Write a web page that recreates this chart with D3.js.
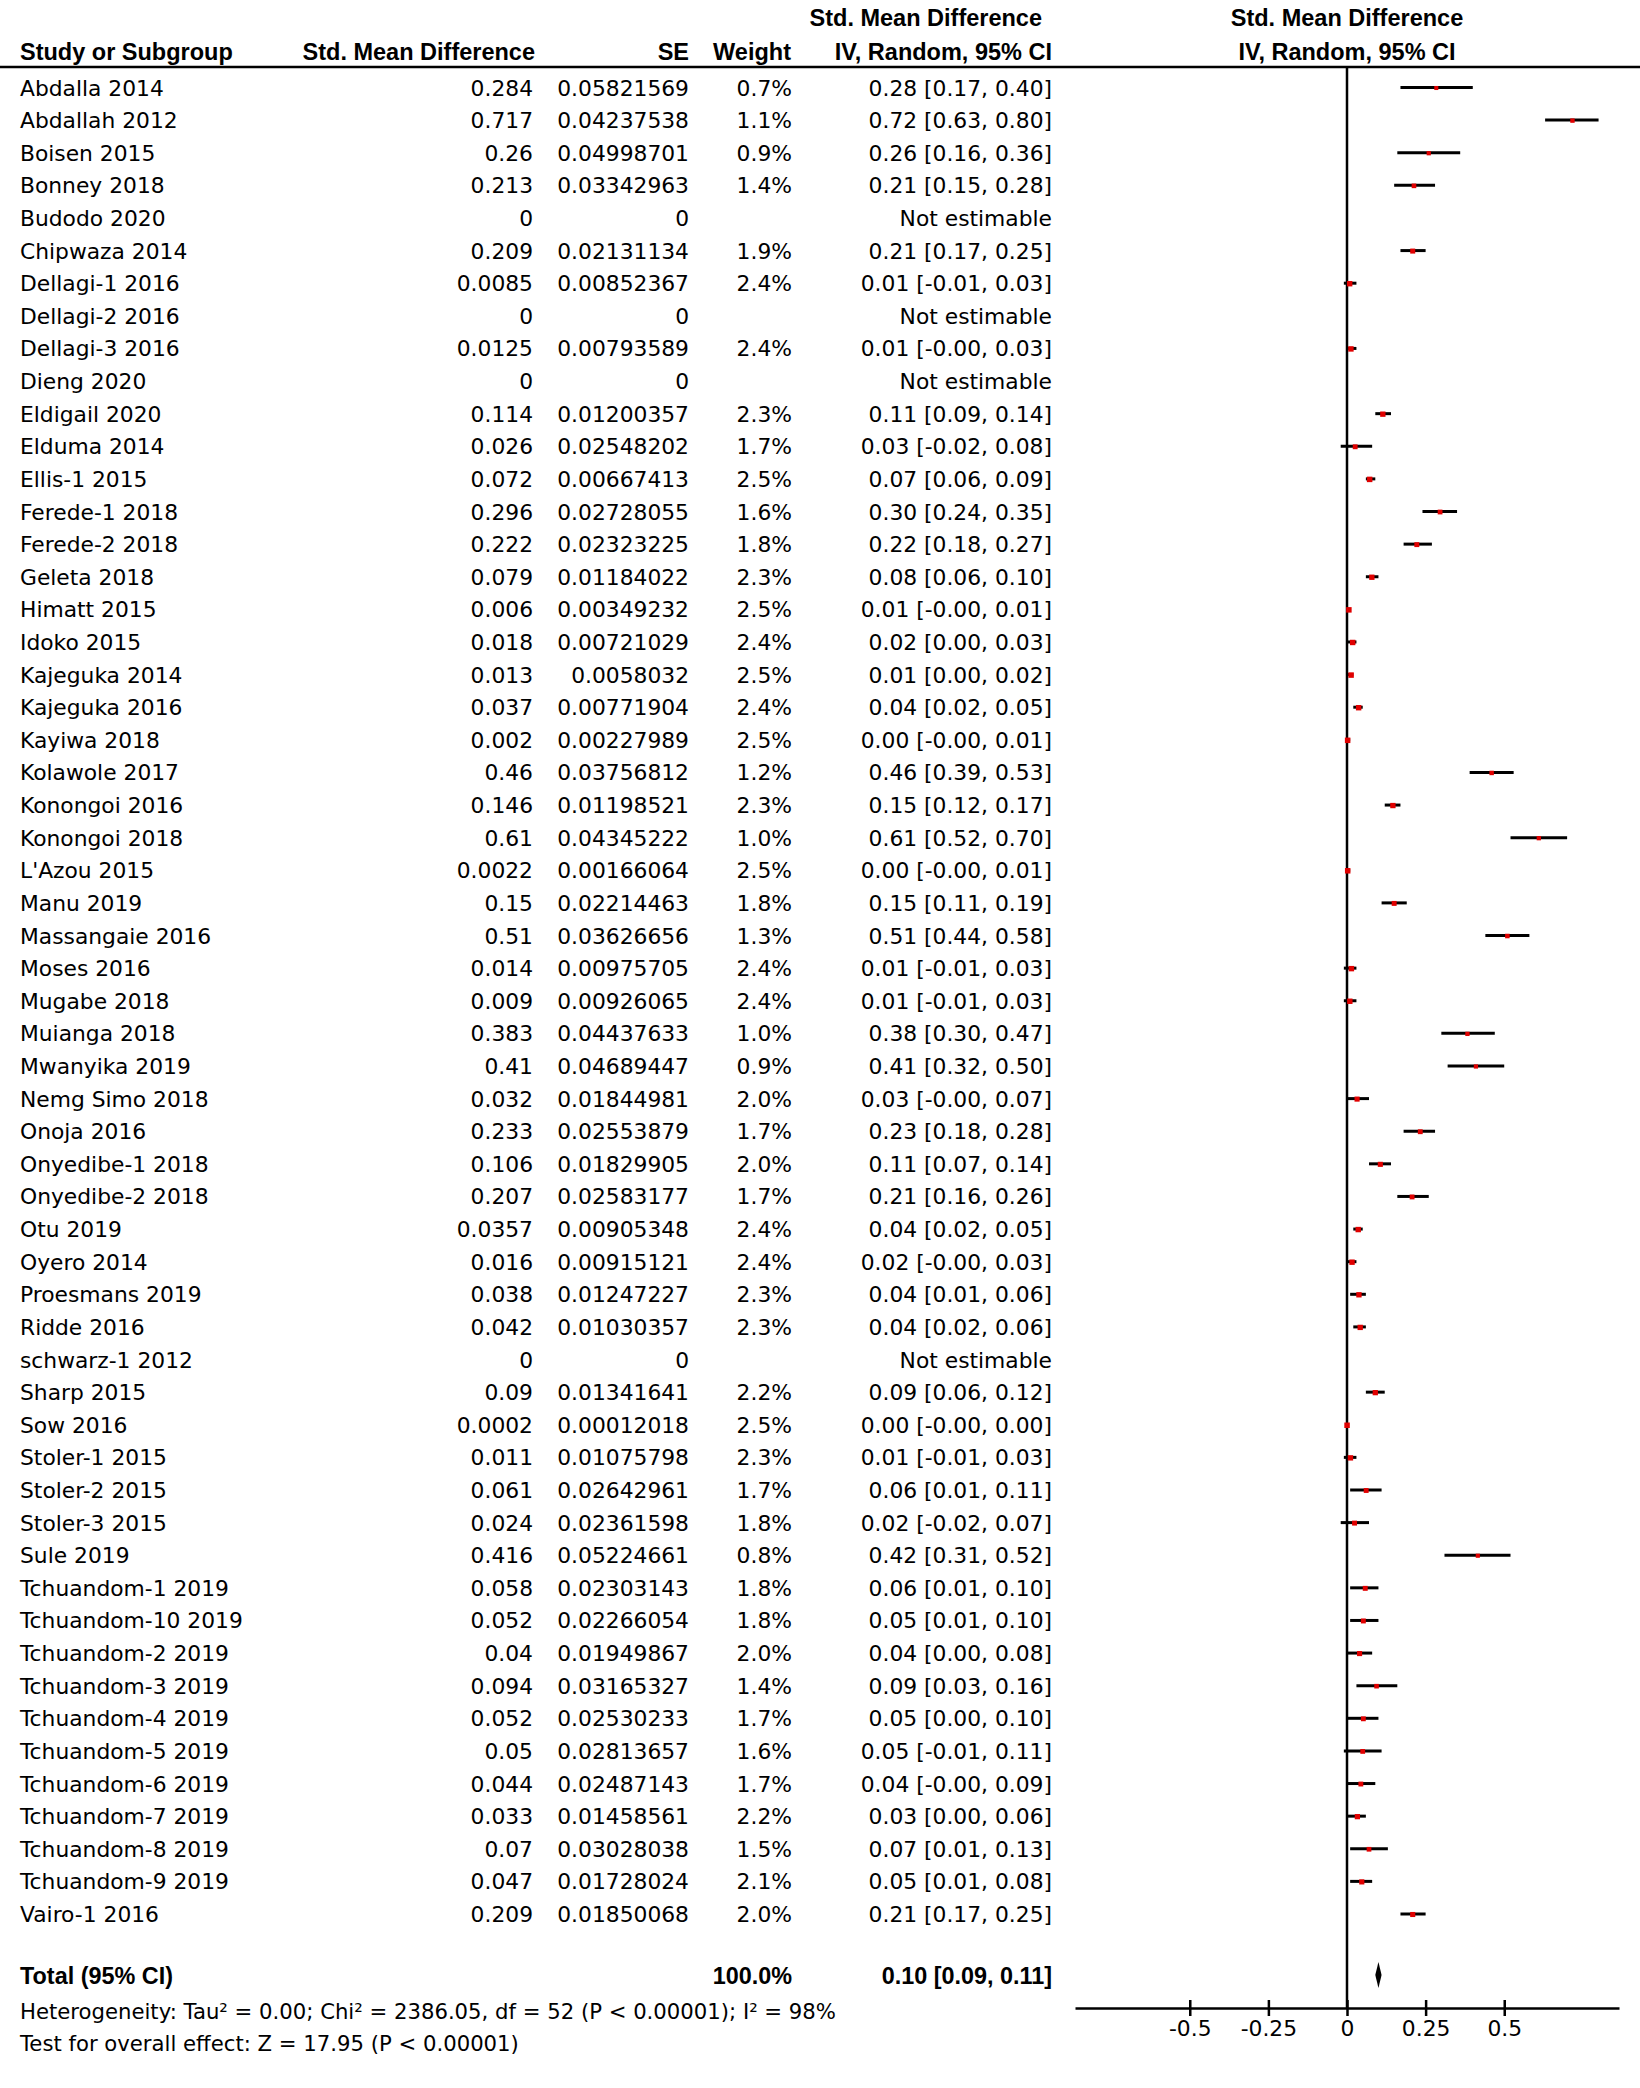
<!DOCTYPE html>
<html>
<head>
<meta charset="utf-8">
<script src="https://cdn.jsdelivr.net/npm/d3@7"></script>
<style>
    body { margin: 0; background: #ffffff; }
</style>
</head>
<body>
<svg id="visualization" width="1640" height="2088"></svg>
<script>
const studies = ["Abdalla 2014", "Abdallah 2012", "Boisen 2015", "Bonney 2018", "Budodo 2020", "Chipwaza 2014",
    "Dellagi-1 2016", "Dellagi-2 2016", "Dellagi-3 2016", "Dieng 2020", "Eldigail 2020", "Elduma 2014",
    "Ellis-1 2015", "Ferede-1 2018", "Ferede-2 2018", "Geleta 2018", "Himatt 2015", "Idoko 2015",
    "Kajeguka 2014", "Kajeguka 2016", "Kayiwa 2018", "Kolawole 2017", "Konongoi 2016", "Konongoi 2018",
    "L'Azou 2015", "Manu 2019", "Massangaie 2016", "Moses 2016", "Mugabe 2018", "Muianga 2018",
    "Mwanyika 2019", "Nemg Simo 2018", "Onoja 2016", "Onyedibe-1 2018", "Onyedibe-2 2018", "Otu 2019",
    "Oyero 2014", "Proesmans 2019", "Ridde 2016", "schwarz-1 2012", "Sharp 2015", "Sow 2016",
    "Stoler-1 2015", "Stoler-2 2015", "Stoler-3 2015", "Sule 2019", "Tchuandom-1 2019", "Tchuandom-10 2019",
    "Tchuandom-2 2019", "Tchuandom-3 2019", "Tchuandom-4 2019", "Tchuandom-5 2019", "Tchuandom-6 2019",
    "Tchuandom-7 2019", "Tchuandom-8 2019", "Tchuandom-9 2019", "Vairo-1 2016"];

const smd = [0.284, 0.717, 0.26, 0.213, 0, 0.209, 0.0085, 0, 0.0125, 0, 0.114, 0.026, 0.072, 0.296, 0.222,
    0.079, 0.006, 0.018, 0.013, 0.037, 0.002, 0.46, 0.146, 0.61, 0.0022, 0.15, 0.51, 0.014, 0.009, 0.383,
    0.41, 0.032, 0.233, 0.106, 0.207, 0.0357, 0.016, 0.038, 0.042, 0, 0.09, 0.0002, 0.011, 0.061, 0.024,
    0.416, 0.058, 0.052, 0.04, 0.094, 0.052, 0.05, 0.044, 0.033, 0.07, 0.047, 0.209];

const se = [0.05821569, 0.04237538, 0.04998701, 0.03342963, 0, 0.02131134, 0.00852367, 0, 0.00793589, 0,
    0.01200357, 0.02548202, 0.00667413, 0.02728055, 0.02323225, 0.01184022, 0.00349232, 0.00721029,
    0.0058032, 0.00771904, 0.00227989, 0.03756812, 0.01198521, 0.04345222, 0.00166064, 0.02214463,
    0.03626656, 0.00975705, 0.00926065, 0.04437633, 0.04689447, 0.01844981, 0.02553879, 0.01829905,
    0.02583177, 0.00905348, 0.00915121, 0.01247227, 0.01030357, 0, 0.01341641, 0.00012018, 0.01075798,
    0.02642961, 0.02361598, 0.05224661, 0.02303143, 0.02266054, 0.01949867, 0.03165327, 0.02530233,
    0.02813657, 0.02487143, 0.01458561, 0.03028038, 0.01728024, 0.01850068];

const weights = [0.7, 1.1, 0.9, 1.4, null, 1.9, 2.4, null, 2.4, null, 2.3, 1.7, 2.5, 1.6, 1.8, 2.3, 2.5, 2.4,
    2.5, 2.4, 2.5, 1.2, 2.3, 1.0, 2.5, 1.8, 1.3, 2.4, 2.4, 1.0, 0.9, 2.0, 1.7, 2.0, 1.7, 2.4, 2.4, 2.3, 2.3,
    null, 2.2, 2.5, 2.3, 1.7, 1.8, 0.8, 1.8, 1.8, 2.0, 1.4, 1.7, 1.6, 1.7, 2.2, 1.5, 2.1, 2.0];

const ciLow = ["0.17", "0.63", "0.16", "0.15", null, "0.17", "-0.01", null, "-0.00", null, "0.09", "-0.02",
    "0.06", "0.24", "0.18", "0.06", "-0.00", "0.00", "0.00", "0.02", "-0.00", "0.39", "0.12", "0.52", "-0.00",
    "0.11", "0.44", "-0.01", "-0.01", "0.30", "0.32", "-0.00", "0.18", "0.07", "0.16", "0.02", "-0.00", "0.01",
    "0.02", null, "0.06", "-0.00", "-0.01", "0.01", "-0.02", "0.31", "0.01", "0.01", "0.00", "0.03", "0.00",
    "-0.01", "-0.00", "0.00", "0.01", "0.01", "0.17"];

const ciHigh = ["0.40", "0.80", "0.36", "0.28", null, "0.25", "0.03", null, "0.03", null, "0.14", "0.08",
    "0.09", "0.35", "0.27", "0.10", "0.01", "0.03", "0.02", "0.05", "0.01", "0.53", "0.17", "0.70", "0.01",
    "0.19", "0.58", "0.03", "0.03", "0.47", "0.50", "0.07", "0.28", "0.14", "0.26", "0.05", "0.03", "0.06",
    "0.06", null, "0.12", "0.00", "0.03", "0.11", "0.07", "0.52", "0.10", "0.10", "0.08", "0.16", "0.10",
    "0.11", "0.09", "0.06", "0.13", "0.08", "0.25"];

const totalEstimate = 0.10;
const totalLow = 0.09;
const totalHigh = 0.11;
const totalWeight = "100.0%";

const tickValues = [-0.5, -0.25, 0, 0.25, 0.5];
const tickLabels = ["-0.5", "-0.25", "0", "0.25", "0.5"];

const headerFont = "'Liberation Sans', Arial, sans-serif";
const bodyFont = "'DejaVu Sans', Verdana, sans-serif";

const rows = studies.map((s, i) => ({
    study: s, smd: smd[i], se: se[i], weight: weights[i], lo: ciLow[i], hi: ciHigh[i], index: i
}));

const svg = d3.select("#visualization");

const xScale = d3.scaleLinear().domain([-0.865, 0.865]).range([1075, 1619]);
const yScale = d3.scaleLinear().domain([0, studies.length - 1]).range([87.5, 1914]);

const headerLineY = 67;
const axisY = 2008;
const totalY = 1975;

// header
const headers = [
    {text: "Std. Mean Difference", x: 1042, y: 25.5, anchor: "end"},
    {text: "Std. Mean Difference", x: xScale(0), y: 25.5, anchor: "middle"},
    {text: "Study or Subgroup", x: 20, y: 59.5, anchor: "start"},
    {text: "Std. Mean Difference", x: 535, y: 59.5, anchor: "end"},
    {text: "SE", x: 689, y: 59.5, anchor: "end"},
    {text: "Weight", x: 791, y: 59.5, anchor: "end"},
    {text: "IV, Random, 95% CI", x: 1052, y: 59.5, anchor: "end"},
    {text: "IV, Random, 95% CI", x: xScale(0), y: 59.5, anchor: "middle"}
];

svg.selectAll("text.header")
    .data(headers)
    .join("text")
    .attr("class", "header")
    .attr("x", d => d.x)
    .attr("y", d => d.y)
    .attr("text-anchor", d => d.anchor)
    .attr("font-family", headerFont)
    .attr("font-weight", 700)
    .attr("font-size", 23.5)
    .text(d => d.text);

svg.append("line")
    .attr("x1", 0)
    .attr("x2", 1640)
    .attr("y1", headerLineY)
    .attr("y2", headerLineY)
    .attr("stroke", "#000")
    .attr("stroke-width", 2.5);

// table columns
const columns = [
    {x: 20, anchor: "start", value: d => d.study},
    {x: 533, anchor: "end", value: d => String(d.smd)},
    {x: 689, anchor: "end", value: d => String(d.se)},
    {x: 792, anchor: "end", value: d => d.weight === null ? "" : d.weight.toFixed(1) + "%"},
    {x: 1052, anchor: "end", value: d => d.lo === null ? "Not estimable" : `${d.smd.toFixed(2)} [${d.lo}, ${d.hi}]`}
];

const rowGroups = svg.selectAll("g.row")
    .data(rows)
    .join("g")
    .attr("class", "row")
    .attr("transform", d => `translate(0, ${yScale(d.index)})`);

rowGroups.selectAll("text")
    .data(d => columns.map(c => ({c: c, d: d})))
    .join("text")
    .attr("x", e => e.c.x)
    .attr("y", 8)
    .attr("text-anchor", e => e.c.anchor)
    .attr("font-family", bodyFont)
    .attr("font-size", 21.8)
    .attr("fill", "#000")
    .text(e => e.c.value(e.d));

// zero line
svg.append("line")
    .attr("x1", xScale(0))
    .attr("x2", xScale(0))
    .attr("y1", headerLineY)
    .attr("y2", axisY)
    .attr("stroke", "#000")
    .attr("stroke-width", 2.5);

// whiskers and markers
const estimable = rows.filter(d => d.lo !== null);
const markerSize = w => 3.5 + w * 0.8;

svg.selectAll("line.whisker")
    .data(estimable)
    .join("line")
    .attr("class", "whisker")
    .attr("x1", d => xScale(+d.lo))
    .attr("x2", d => xScale(+d.hi))
    .attr("y1", d => yScale(d.index))
    .attr("y2", d => yScale(d.index))
    .attr("stroke", "#000")
    .attr("stroke-width", 3);

svg.selectAll("rect.marker")
    .data(estimable)
    .join("rect")
    .attr("class", "marker")
    .attr("width", d => markerSize(d.weight))
    .attr("height", d => markerSize(d.weight))
    .attr("x", d => xScale(d.smd) - markerSize(d.weight) / 2)
    .attr("y", d => yScale(d.index) - markerSize(d.weight) / 2 + 0.5)
    .attr("fill", "#e00000");

// total row
const totals = [
    {text: "Total (95% CI)", x: 20, anchor: "start"},
    {text: totalWeight, x: 792, anchor: "end"},
    {text: `${totalEstimate.toFixed(2)} [${totalLow.toFixed(2)}, ${totalHigh.toFixed(2)}]`, x: 1052, anchor: "end"}
];

svg.selectAll("text.total")
    .data(totals)
    .join("text")
    .attr("class", "total")
    .attr("x", d => d.x)
    .attr("y", totalY + 8.5)
    .attr("text-anchor", d => d.anchor)
    .attr("font-family", headerFont)
    .attr("font-weight", 700)
    .attr("font-size", 23.4)
    .text(d => d.text);

svg.append("path")
    .attr("d", `M${xScale(totalLow)},${totalY} L${xScale(totalEstimate)},${totalY - 13} L${xScale(totalHigh)},${totalY} L${xScale(totalEstimate)},${totalY + 13} Z`)
    .attr("fill", "#000");

// footer
svg.selectAll("text.footer")
    .data([
        {text: "Heterogeneity: Tau² = 0.00; Chi² = 2386.05, df = 52 (P < 0.00001); I² = 98%", y: 2019},
        {text: "Test for overall effect: Z = 17.95 (P < 0.00001)", y: 2051}
    ])
    .join("text")
    .attr("class", "footer")
    .attr("x", 20)
    .attr("y", d => d.y)
    .attr("font-family", bodyFont)
    .attr("font-size", 21.2)
    .text(d => d.text);

// axis
const axis = svg.append("g")
    .attr("transform", `translate(0, ${axisY})`)
    .call(d3.axisBottom(xScale)
        .tickValues(tickValues)
        .tickFormat((d, i) => tickLabels[i])
        .tickSizeOuter(0));

axis.select(".domain")
    .attr("stroke", "#000")
    .attr("stroke-width", 2.5);

axis.selectAll(".tick line")
    .attr("y1", -8)
    .attr("y2", 8)
    .attr("stroke", "#000")
    .attr("stroke-width", 2.5);

axis.selectAll(".tick text")
    .attr("y", 28)
    .attr("dy", 0)
    .attr("fill", "#000")
    .attr("font-family", bodyFont)
    .attr("font-size", 21.8);
</script>
</body>
</html>
